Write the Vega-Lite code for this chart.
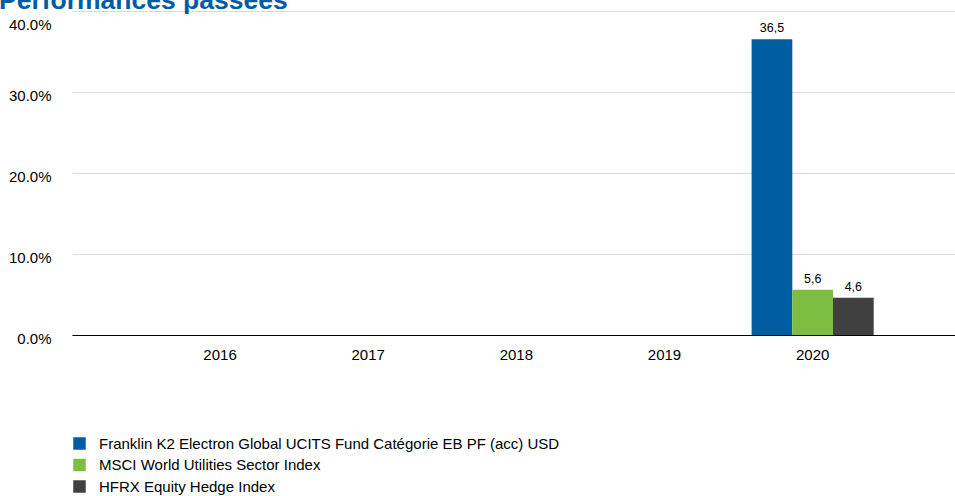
{
  "$schema": "https://vega.github.io/schema/vega-lite/v6.json",
  "width": 883,
  "height": 324,
  "autosize": {"type": "none"},
  "padding": {"left": 72, "top": 11, "right": 0, "bottom": 161},
  "title": {
    "text": "Performances passées",
    "anchor": "start",
    "frame": "group",
    "dx": -73,
    "dy": 24,
    "offset": 0,
    "baseline": "alphabetic",
    "font": "Liberation Sans",
    "fontSize": 26.5,
    "fontWeight": "bold",
    "color": "#005DA2"
  },
  "data": {
    "values": [
      {"year": "2020", "series": "Franklin K2 Electron Global UCITS Fund Catégorie EB PF (acc) USD", "value": 36.5},
      {"year": "2020", "series": "MSCI World Utilities Sector Index", "value": 5.6},
      {"year": "2020", "series": "HFRX Equity Hedge Index", "value": 4.6}
    ]
  },
  "encoding": {
    "x": {
      "field": "year",
      "type": "nominal",
      "scale": {"domain": ["2016", "2017", "2018", "2019", "2020"], "paddingOuter": 0.48, "paddingInner": 0, "align": 0.52},
      "axis": {
        "title": null,
        "labelAngle": 0,
        "domainColor": "#000000",
        "domainWidth": 1.2,
        "ticks": false,
        "grid": false,
        "labelFont": "Liberation Sans",
        "labelFontSize": 15,
        "labelColor": "#000000",
        "labelPadding": 12
      }
    },
    "xOffset": {
      "field": "series",
      "type": "nominal",
      "sort": ["Franklin K2 Electron Global UCITS Fund Catégorie EB PF (acc) USD", "MSCI World Utilities Sector Index", "HFRX Equity Hedge Index"],
      "scale": {"paddingOuter": 0.32, "paddingInner": 0}
    },
    "y": {
      "field": "value",
      "type": "quantitative",
      "scale": {"domain": [0, 40], "nice": false},
      "axis": {
        "title": null,
        "values": [0, 10, 20, 30, 40],
        "format": ".1f",
        "labelExpr": "replace(datum.label, ',', '.') + '%'",
        "domain": false,
        "ticks": false,
        "gridColor": "#D9D9D9",
        "gridWidth": 1,
        "labelFont": "Liberation Sans",
        "labelFontSize": 15,
        "labelColor": "#000000",
        "labelPadding": 21,
        "labelOffset": {"condition": {"test": "datum.value == 40", "value": 13}, "value": 3}
      }
    }
  },
  "layer": [
    {
      "mark": {"type": "bar"},
      "encoding": {
        "color": {
          "field": "series",
          "type": "nominal",
          "scale": {
            "domain": ["Franklin K2 Electron Global UCITS Fund Catégorie EB PF (acc) USD", "MSCI World Utilities Sector Index", "HFRX Equity Hedge Index"],
            "range": ["#005DA2", "#7DBD42", "#404040"]
          },
          "legend": {
            "title": null,
            "orient": "none",
            "legendX": 0,
            "legendY": 425,
            "symbolType": "square",
            "symbolSize": 156,
            "symbolStrokeWidth": 0,
            "labelFont": "Liberation Sans",
            "labelFontSize": 15,
            "labelColor": "#000000",
            "labelLimit": 700,
            "labelOffset": 12,
            "rowPadding": 5.5
          }
        }
      }
    },
    {
      "mark": {"type": "text", "baseline": "alphabetic", "dy": -7, "font": "Liberation Sans", "fontSize": 12.5, "color": "#000000"},
      "encoding": {
        "text": {"field": "value", "type": "quantitative", "format": ".1f"}
      }
    }
  ],
  "config": {
    "view": {"stroke": null},
    "locale": {"number": {"decimal": ",", "thousands": " ", "grouping": [3], "currency": ["", " €"]}}
  }
}
